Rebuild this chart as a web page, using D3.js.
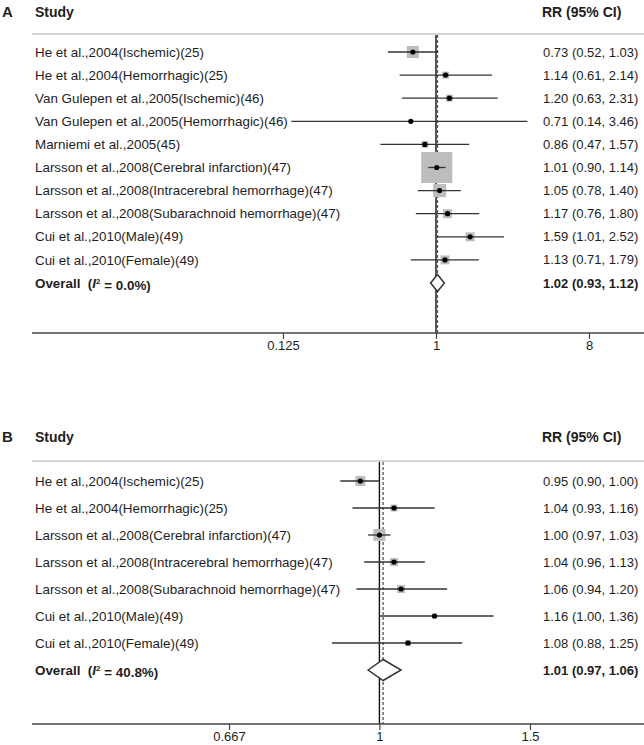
<!DOCTYPE html>
<html>
<head>
<meta charset="utf-8">
<script src="https://cdn.jsdelivr.net/npm/d3@7"></script>
<style>
  body { margin: 0; background: #fff; }
  text { font-family: "Liberation Sans", Arial, sans-serif; fill: #1e1e1e; }
</style>
</head>
<body>
<svg id="chart" width="644" height="745"></svg>
<script>
// panel A data
var studiesA = ["He et al.,2004(Ischemic)(25)", "He et al.,2004(Hemorrhagic)(25)",
  "Van Gulepen et al.,2005(Ischemic)(46)", "Van Gulepen et al.,2005(Hemorrhagic)(46)",
  "Marniemi et al.,2005(45)", "Larsson et al.,2008(Cerebral infarction)(47)",
  "Larsson et al.,2008(Intracerebral hemorrhage)(47)", "Larsson et al.,2008(Subarachnoid hemorrhage)(47)",
  "Cui et al.,2010(Male)(49)", "Cui et al.,2010(Female)(49)"];
var rrA = [0.73, 1.14, 1.20, 0.71, 0.86, 1.01, 1.05, 1.17, 1.59, 1.13];
var lowA = [0.52, 0.61, 0.63, 0.14, 0.47, 0.90, 0.78, 0.76, 1.01, 0.71];
var highA = [1.03, 2.14, 2.31, 3.46, 1.57, 1.14, 1.40, 1.80, 2.52, 1.79];
var weightA = [8.6, 2.9, 2.9, 0.5, 2.9, 57.4, 10.1, 4.8, 4.8, 4.8];
var overallA = {rr: 1.02, low: 0.93, high: 1.12, i2: "0.0%"};
var ticksA = [0.125, 1, 8];
var tickLabelsA = ["0.125", "1", "8"];

// panel B data
var studiesB = ["He et al.,2004(Ischemic)(25)", "He et al.,2004(Hemorrhagic)(25)",
  "Larsson et al.,2008(Cerebral infarction)(47)", "Larsson et al.,2008(Intracerebral hemorrhage)(47)",
  "Larsson et al.,2008(Subarachnoid hemorrhage)(47)", "Cui et al.,2010(Male)(49)", "Cui et al.,2010(Female)(49)"];
var rrB = [0.95, 1.04, 1.00, 1.04, 1.06, 1.16, 1.08];
var lowB = [0.90, 0.93, 0.97, 0.96, 0.94, 1.00, 0.88];
var highB = [1.00, 1.16, 1.03, 1.13, 1.20, 1.36, 1.25];
var weightB = [20.7, 10.2, 29.9, 13.3, 13.3, 5.2, 7.5];
var overallB = {rr: 1.01, low: 0.97, high: 1.06, i2: "40.8%"};
var ticksB = [0.667, 1, 1.5];
var tickLabelsB = ["0.667", "1", "1.5"];

var svg = d3.select("#chart");
var fmt = d3.format(".2f");

function forest(cfg) {
  var g = svg.append("g");
  var n = cfg.studies.length;

  var x = d3.scaleLog().domain(cfg.domain).range(cfg.range);
  var y = d3.scalePoint().domain(d3.range(n + 1)).range([cfg.firstRow, cfg.overallRow]);
  var box = d3.scaleSqrt().domain([0, d3.max(cfg.weights)]).range([0, cfg.maxBox]);

  // headers
  g.append("text").attr("x", 2).attr("y", cfg.headY).attr("dy", "0.35em")
    .style("font-weight", "bold").style("font-size", "15px").text(cfg.letter);
  g.append("text").attr("x", 35).attr("y", cfg.headY).attr("dy", "0.35em")
    .style("font-weight", "bold").style("font-size", "14px").text("Study");
  g.append("text").attr("x", 542).attr("y", cfg.headY).attr("dy", "0.35em")
    .style("font-weight", "bold").style("font-size", "14px").text("RR (95% CI)");
  g.append("line").attr("x1", 32).attr("x2", 644).attr("y1", cfg.sepY).attr("y2", cfg.sepY)
    .attr("stroke", "#d4d4d4").attr("stroke-width", 2);

  // null line + overall dashed line
  g.append("line").attr("x1", x(1)).attr("x2", x(1)).attr("y1", cfg.sepY + 1).attr("y2", cfg.axisY)
    .attr("stroke", "#111").attr("stroke-width", 1.4);
  g.append("line").attr("x1", x(cfg.overall.rr)).attr("x2", x(cfg.overall.rr))
    .attr("y1", cfg.sepY + 1).attr("y2", cfg.axisY)
    .attr("stroke", "#555").attr("stroke-width", 1.3).attr("stroke-dasharray", "3,2");

  var rows = cfg.studies.map(function(s, i) {
    return {name: s, rr: cfg.rr[i], low: cfg.low[i], high: cfg.high[i], w: cfg.weights[i], i: i};
  });

  // study labels and values
  g.selectAll(".lab").data(rows).enter().append("text")
    .attr("x", 35).attr("y", function(d) { return y(d.i); }).attr("dy", "0.35em")
    .style("font-size", "13.4px").text(function(d) { return d.name; });
  g.selectAll(".val").data(rows).enter().append("text")
    .attr("x", 543).attr("y", function(d) { return y(d.i); }).attr("dy", "0.35em")
    .style("font-size", "13px")
    .text(function(d) { return fmt(d.rr) + " (" + fmt(d.low) + ", " + fmt(d.high) + ")"; });

  // boxes
  g.selectAll(".box").data(rows).enter().append("rect")
    .attr("x", function(d) { return x(d.rr) - box(d.w) / 2; })
    .attr("y", function(d) { return y(d.i) - box(d.w) / 2; })
    .attr("width", function(d) { return box(d.w); })
    .attr("height", function(d) { return box(d.w); })
    .attr("fill", "#bdbdbd");

  // CI lines
  g.selectAll(".ci").data(rows).enter().append("line")
    .attr("x1", function(d) { return x(d.low); })
    .attr("x2", function(d) { return x(d.high); })
    .attr("y1", function(d) { return y(d.i); })
    .attr("y2", function(d) { return y(d.i); })
    .attr("stroke", "#333").attr("stroke-width", 1.3);

  g.selectAll(".pt").data(rows).enter().append("circle")
    .attr("cx", function(d) { return x(d.rr); })
    .attr("cy", function(d) { return y(d.i); })
    .attr("r", 2.6).attr("fill", "#000");

  // overall row
  var oy = y(n);
  var ov = g.append("text").attr("x", 35).attr("y", oy).attr("dy", "0.35em")
    .style("font-size", "13.4px").style("font-weight", "bold").style("white-space", "pre");
  ov.append("tspan").text("Overall  (");
  ov.append("tspan").style("font-style", "italic").text("I");
  ov.append("tspan").attr("dy", "-0.45em").style("font-size", "8px").text("2");
  ov.append("tspan").attr("dy", "0.45em").text(" = " + cfg.overall.i2 + ")");
  g.append("text").attr("x", 543).attr("y", oy).attr("dy", "0.35em")
    .style("font-size", "13px").style("font-weight", "bold")
    .text(fmt(cfg.overall.rr) + " (" + fmt(cfg.overall.low) + ", " + fmt(cfg.overall.high) + ")");

  var h = cfg.diamondH;
  g.append("path")
    .attr("d", "M" + x(cfg.overall.low) + "," + oy +
      "L" + x(cfg.overall.rr) + "," + (oy - h) +
      "L" + x(cfg.overall.high) + "," + oy +
      "L" + x(cfg.overall.rr) + "," + (oy + h) + "Z")
    .attr("fill", "#fff").attr("stroke", "#333").attr("stroke-width", 1.5);

  // axis
  var axis = d3.axisBottom(x).tickValues(cfg.ticks).tickSize(6).tickSizeOuter(0).tickPadding(2)
    .tickFormat(function(d, i) { return cfg.tickLabels[i]; });
  var ax = g.append("g").attr("transform", "translate(0," + cfg.axisY + ")").call(axis);
  ax.select(".domain").remove();
  ax.append("line").attr("x1", 32).attr("x2", 644).attr("stroke", "#444").attr("stroke-width", 1.5);
  ax.selectAll(".tick line").attr("stroke", "#444").attr("stroke-width", 1.2);
  ax.selectAll(".tick text").style("font-size", "13px")
    .style("font-family", "'Liberation Sans', Arial, sans-serif").attr("fill", "#222");
}

forest({
  letter: "A", studies: studiesA, rr: rrA, low: lowA, high: highA, weights: weightA,
  overall: overallA, ticks: ticksA, tickLabels: tickLabelsA,
  domain: [0.125, 8], range: [283, 589],
  headY: 12, sepY: 34, firstRow: 52, overallRow: 283, axisY: 333, maxBox: 31, diamondH: 8.5
});

forest({
  letter: "B", studies: studiesB, rr: rrB, low: lowB, high: highB, weights: weightB,
  overall: overallB, ticks: ticksB, tickLabels: tickLabelsB,
  domain: [0.667, 1.5], range: [229, 530],
  headY: 437, sepY: 461, firstRow: 481, overallRow: 670, axisY: 724, maxBox: 12, diamondH: 10.5
});
</script>
</body>
</html>
